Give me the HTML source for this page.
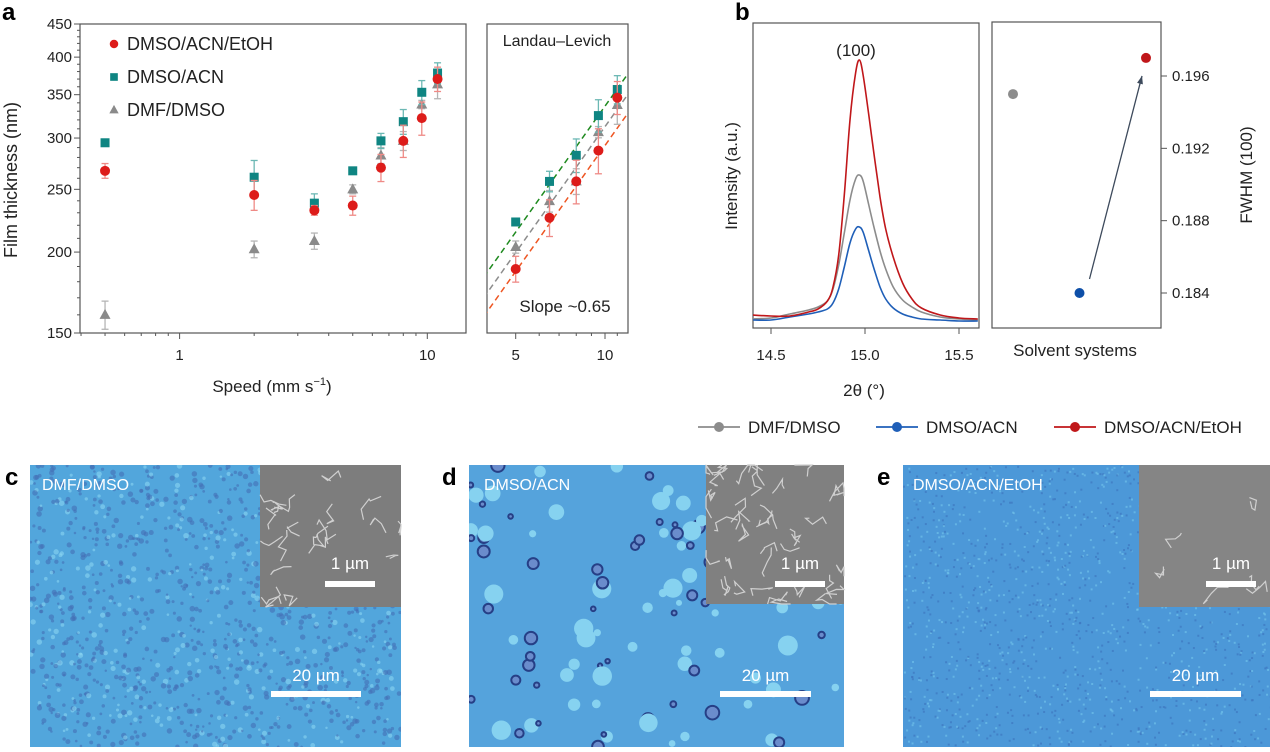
<!DOCTYPE html>
<html><head><meta charset="utf-8">
<style>
html,body{margin:0;padding:0;background:#fff;}
body{width:1270px;height:747px;overflow:hidden;position:relative;font-family:"Liberation Sans",Arial,sans-serif;}
svg text{font-family:"Liberation Sans",Arial,sans-serif;}
</style></head>
<body>
<svg id="fig" width="1270" height="747" viewBox="0 0 1270 747" xmlns="http://www.w3.org/2000/svg">
<defs>
<clipPath id="clipC"><rect x="30" y="465" width="371" height="282"/></clipPath>
<clipPath id="clipD"><rect x="469" y="465" width="375" height="282"/></clipPath>
<clipPath id="clipE"><rect x="903" y="465" width="367" height="282"/></clipPath>
<clipPath id="clipAin"><rect x="487" y="24" width="141" height="309"/></clipPath>
<clipPath id="clipB1"><rect x="753" y="23" width="226" height="305"/></clipPath>
</defs>
<g id="layer"></g>
</svg>
<script>
// ===== Panel a data =====
const speeds = [0.5, 2, 3.5, 5, 6.5, 8, 9.5, 11];
const redVals = [267, 245, 232, 236, 270, 297, 322, 370];
const redErr = [7, 13, 4, 8, 13, 17, 19, 16];
const tealVals = [295, 261, 238, 267, 297, 318, 353, 378];
const tealErr = [0, 16, 8, 0, 8, 14, 15, 14];
const grayVals = [160, 202, 208, 250, 282, 297, 338, 363];
const grayErr = [8, 6, 6, 4, 8, 10, 5, 18];
const yTicksA = [150, 200, 250, 300, 350, 400, 450];
const xTicksA = [1, 10];
const xTicksInset = [5, 10];
const fitAt5 = [260, 246.4, 234.5];
const fitSlope = 0.477;
// ===== Panel b data =====
const twoTheta = [14.40,14.50,14.60,14.70,14.75,14.80,14.83,14.86,14.89,14.92,14.95,14.97,14.99,15.02,15.05,15.08,15.11,15.15,15.20,15.25,15.30,15.40,15.50,15.60];
const redXRD  = [10,9,9,13,16,24,38,70,130,205,252,265,250,210,168,128,96,68,42,26,17,10,7,6];
const grayXRD = [6,7,11,15,18,24,36,60,92,125,146,150,144,120,96,74,56,38,25,18,13,8,6,5];
const blueXRD = [5,5,8,11,13,16,22,36,58,82,96,98,93,74,55,38,26,17,11,8,6,5,4,4];
const xTicksB = [14.5, 15.0, 15.5];
const solvents = ["DMF/DMSO","DMSO/ACN","DMSO/ACN/EtOH"];
const fwhm = [0.195, 0.184, 0.197];
const fwhmTicks = [0.184, 0.188, 0.192, 0.196];

const NS = "http://www.w3.org/2000/svg";
const layer = document.getElementById('layer');
function mk(tag, attrs, parent){
  const e = document.createElementNS(NS, tag);
  for (const k in attrs) e.setAttribute(k, attrs[k]);
  (parent||layer).appendChild(e);
  return e;
}
function txt(x,y,s,attrs,parent){
  const e = mk('text', Object.assign({x:x,y:y}, attrs||{}), parent);
  e.textContent = s; return e;
}

const A = {x0:80, x1:466, y0:333, y1:24};
const axX = v => 179.6 + Math.log10(v)*247.7;
const axY = v => A.y0 - Math.log(v/150)/Math.log(3)*(A.y0-A.y1);
const inX = v => 515.7 + Math.log10(v/5)*296.7;
const inY = v => 269 - Math.log(v/236)*381;

let g;
g = mk('text',{x:2,y:20,'font-size':24,'font-weight':'bold'}); g.textContent='a';



const frameA = mk('rect',{x:A.x0,y:A.y1,width:A.x1-A.x0,height:A.y0-A.y1,fill:'none',stroke:'#555','stroke-width':1.2});



for (let v=150; v<=450; v+=10){
  const y = axY(v); const major = v%50===0;
  mk('line',{x1:A.x0-(major?6:3),x2:A.x0,y1:y,y2:y,stroke:'#555','stroke-width':1});
}
yTicksA.forEach(v=>{
  const t = txt(72, axY(v)+5, String(v), {'font-size':15,'text-anchor':'end',fill:'#222'});
  
  
});
for (let d of [0.1,1,10]) for (let m=1;m<10;m++){
  const v=d*m; const x=axX(v);
  if (x<A.x0||x>A.x1) continue;
  mk('line',{x1:x,x2:x,y1:A.y0,y2:A.y0+(m===1?6:3),stroke:'#555','stroke-width':1});
}
xTicksA.forEach(v=>{
  const t = txt(axX(v), 360, String(v), {'font-size':15,'text-anchor':'middle',fill:'#222'});
  
  
});
g = txt(272, 392, 'Speed (mm s', {'font-size':17,'text-anchor':'middle',fill:'#222'});
const sup = mk('tspan',{dy:-7,'font-size':11},g); sup.textContent='−1';
const cl = mk('tspan',{dy:7},g); cl.textContent=')';


g = txt(0,0,'Film thickness (nm)',{'font-size':18,'text-anchor':'middle',fill:'#222',transform:'translate(17,180) rotate(-90)'});



const seriesDefs = [
  {name:'dmso-acn-etoh', vals:redVals, err:redErr, color:'#dd1c1a', ecolor:'#ef8a86', shape:'circle'},
  {name:'dmso-acn', vals:tealVals, err:tealErr, color:'#0f8582', ecolor:'#6cb8b4', shape:'square'},
  {name:'dmf-dmso', vals:grayVals, err:grayErr, color:'#8a8a8a', ecolor:'#b5b5b5', shape:'triangle'}
];
function marker(shape,x,y,color,parent,s){
  s = s||1;
  if (shape==='circle') return mk('circle',{cx:x,cy:y,r:5*s,fill:color},parent);
  if (shape==='square') return mk('rect',{x:x-4.5*s,y:y-4.5*s,width:9*s,height:9*s,fill:color},parent);
  return mk('polygon',{points:`${x},${y-6*s} ${x-5.5*s},${y+4*s} ${x+5.5*s},${y+4*s}`,fill:color},parent);
}
function drawSeries(sd, fx, fy, filter, prefix){
  const grp = mk('g',{});
  
  
  speeds.forEach((s,i)=>{
    if (!filter(s)) return;
    const x=fx(s), v=sd.vals[i], e=sd.err[i];
    if (e>0){
      const yt=fy(v+e), yb=fy(v-e);
      mk('line',{x1:x,x2:x,y1:yt,y2:yb,stroke:sd.ecolor,'stroke-width':1.3},grp);
      mk('line',{x1:x-3.5,x2:x+3.5,y1:yt,y2:yt,stroke:sd.ecolor,'stroke-width':1.3},grp);
      mk('line',{x1:x-3.5,x2:x+3.5,y1:yb,y2:yb,stroke:sd.ecolor,'stroke-width':1.3},grp);
    }
    const m = marker(sd.shape,x,fy(v),sd.color,grp);
    
    
  });
}
[2,1,0].forEach(k=>drawSeries(seriesDefs[k], axX, axY, ()=>true, 'main'));

const legA = mk('g',{});


[['DMSO/ACN/EtOH',0],['DMSO/ACN',1],['DMF/DMSO',2]].forEach(([label,k],i)=>{
  const y = 44 + i*33;
  marker(seriesDefs[k].shape, 114, y, seriesDefs[k].color, legA, 0.85);
  const t = txt(127, y+6, label, {'font-size':18,fill:'#222'}, legA);
  
  
});

const frameIn = mk('rect',{x:487,y:24,width:141,height:309,fill:'none',stroke:'#555','stroke-width':1.2});


for (let m=4;m<=12;m++){
  const x=inX(m); if (x<487||x>628) continue;
  mk('line',{x1:x,x2:x,y1:333,y2:333+((m===5||m===10)?6:3),stroke:'#555','stroke-width':1});
}
xTicksInset.forEach(v=>{
  const t = txt(inX(v), 360, String(v), {'font-size':15,'text-anchor':'middle',fill:'#222'});
  
  
});
g = txt(557,46,'Landau–Levich',{'font-size':16,'text-anchor':'middle',fill:'#222'});


g = txt(565,312,'Slope  ~0.65',{'font-size':17,'text-anchor':'middle',fill:'#222'});


const fitColors = ['#1f8a1f','#8c8c8c','#ee5522'];
const fitG = mk('g',{'clip-path':'url(#clipAin)'});
fitAt5.forEach((c,i)=>{
  const xa=3.9, xb=12.3;
  const l = mk('line',{x1:inX(xa),y1:inY(c*Math.pow(xa/5,fitSlope)),x2:inX(xb),y2:inY(c*Math.pow(xb/5,fitSlope)),stroke:fitColors[i],'stroke-width':1.5,'stroke-dasharray':'6,4'},fitG);
  
  
});
[2,1,0].forEach(k=>drawSeries(seriesDefs[k], inX, inY, s=>s>=5, 'inset'));

// ---- Panel b ----
g = txt(735,20,'b',{'font-size':24,'font-weight':'bold'});


const B = {x0:753, x1:979, y0:328, y1:23};
const bx = v => 865 + (v-15.0)*188;
const by = v => 325 - v;
const frB = mk('rect',{x:B.x0,y:B.y1,width:B.x1-B.x0,height:B.y0-B.y1,fill:'none',stroke:'#555','stroke-width':1.2});


xTicksB.forEach(v=>{
  mk('line',{x1:bx(v),x2:bx(v),y1:B.y0,y2:B.y0+6,stroke:'#555','stroke-width':1});
  const t = txt(bx(v), 360, v.toFixed(1), {'font-size':15,'text-anchor':'middle',fill:'#222'});
  
  
});
function smoothPath(pts){
  let d = 'M'+pts[0][0].toFixed(1)+','+pts[0][1].toFixed(1);
  for (let i=0;i<pts.length-1;i++){
    const p0=pts[Math.max(0,i-1)], p1=pts[i], p2=pts[i+1], p3=pts[Math.min(pts.length-1,i+2)];
    const c1x=p1[0]+(p2[0]-p0[0])/6, c1y=p1[1]+(p2[1]-p0[1])/6;
    const c2x=p2[0]-(p3[0]-p1[0])/6, c2y=p2[1]-(p3[1]-p1[1])/6;
    d += ` C${c1x.toFixed(1)},${c1y.toFixed(1)} ${c2x.toFixed(1)},${c2y.toFixed(1)} ${p2[0].toFixed(1)},${p2[1].toFixed(1)}`;
  }
  return d;
}
const xrdG = mk('g',{'clip-path':'url(#clipB1)'});
[[grayXRD,'#8c8c8c','xrd-line-dmf-dmso'],[blueXRD,'#1f5fb8','xrd-line-dmso-acn'],[redXRD,'#c0171a','xrd-line-dmso-acn-etoh']].forEach(([arr,col,nm])=>{
  const pts = arr.map((v,i)=>[bx(twoTheta[i]), by(v)]);
  const p = mk('path',{d:smoothPath(pts),fill:'none',stroke:col,'stroke-width':1.6,'stroke-linejoin':'round'},xrdG);
  
  
});
g = txt(856,56,'(100)',{'font-size':17,'text-anchor':'middle',fill:'#222'});


g = txt(0,0,'Intensity (a.u.)',{'font-size':17,'text-anchor':'middle',fill:'#222',transform:'translate(737,176) rotate(-90)'});


g = txt(864,396,'2θ (°)',{'font-size':17,'text-anchor':'middle',fill:'#222'});



const F = {x0:992, x1:1161, y0:328, y1:22};
const fx = i => 1013 + i*66.5;
const fy = v => 293 - (v-0.184)*18083;
const frF = mk('rect',{x:F.x0,y:F.y1,width:F.x1-F.x0,height:F.y0-F.y1,fill:'none',stroke:'#555','stroke-width':1.2});


fwhmTicks.forEach(v=>{
  mk('line',{x1:F.x1,x2:F.x1+6,y1:fy(v),y2:fy(v),stroke:'#555','stroke-width':1});
  const t = txt(1172, fy(v)+5, v.toFixed(3), {'font-size':15,fill:'#222'});
  
  
});
const fcols = ['#8c8c8c','#0e4fa8','#c0171a'];
const ax1=fx(1)+10, ay1=fy(fwhm[1])-14, ax2=fx(2)-4, ay2=fy(fwhm[2])+18;
const arr = mk('line',{x1:ax1,y1:ay1,x2:ax2,y2:ay2,stroke:'#3d4a5c','stroke-width':1.3});


const ang = Math.atan2(ay2-ay1, ax2-ax1);
const hx = ax2, hy = ay2;
mk('polygon',{points:`${hx},${hy} ${hx-8*Math.cos(ang)+3*Math.sin(ang)},${hy-8*Math.sin(ang)-3*Math.cos(ang)} ${hx-8*Math.cos(ang)-3*Math.sin(ang)},${hy-8*Math.sin(ang)+3*Math.cos(ang)}`,fill:'#3d4a5c'});
fwhm.forEach((v,i)=>{
  const c = mk('circle',{cx:fx(i),cy:fy(v),r:5,fill:fcols[i]});
  
  
});
g = txt(1075,356,'Solvent systems',{'font-size':17,'text-anchor':'middle',fill:'#222'});


g = txt(0,0,'FWHM (100)',{'font-size':17,'text-anchor':'middle',fill:'#222',transform:'translate(1252,175) rotate(-90)'});



const legB = mk('g',{});


[['DMF/DMSO','#8c8c8c',698],['DMSO/ACN','#1f5fb8',876],['DMSO/ACN/EtOH','#c0171a',1054]].forEach(([lab,col,x])=>{
  mk('line',{x1:x,x2:x+42,y1:427,y2:427,stroke:col,'stroke-width':1.8},legB);
  mk('circle',{cx:x+21,cy:427,r:5,fill:col},legB);
  const t = txt(x+50,433,lab,{'font-size':17,fill:'#222'},legB);
  
  
});

// ---- Micrographs (decorative texture) ----
let seed = 12345;
function rnd(){ seed = (seed*1103515245+12345)%2147483648; return seed/2147483648; }
function micro(id, x, y, w, h, bg, clip){
  const grp = mk('g',{'clip-path':'url(#'+clip+')'});
  
  
  mk('rect',{x:x,y:y,width:w,height:h,fill:bg},grp);
  return grp;
}
const gc = micro('micrograph-c',30,465,371,282,'#52a6dc','clipC');
for (let i=0;i<1300;i++){
  const cx=30+rnd()*371, cy=465+rnd()*282, r=1.2+rnd()*1.6;
  mk('circle',{cx:cx,cy:cy,r:r,fill:rnd()<0.75?'#4570b5':'#8ad6f2','fill-opacity':0.6},gc);
}
const gd = micro('micrograph-d',469,465,375,282,'#55a3dc','clipD');
for (let i=0;i<110;i++){
  const cx=469+rnd()*375, cy=465+rnd()*282, r=3+rnd()*7;
  if (rnd()<0.55) mk('circle',{cx:cx,cy:cy,r:r,fill:'#86d2f0'},gd);
  else { mk('circle',{cx:cx,cy:cy,r:r*0.7,fill:'#6a8ccc',stroke:'#263f86','stroke-width':2},gd); }
}
const ge = micro('micrograph-e',903,465,367,282,'#4c98d8','clipE');
for (let i=0;i<1400;i++){
  const cx=903+rnd()*367, cy=465+rnd()*282;
  mk('rect',{x:cx,y:cy,width:2,height:2,fill:rnd()<0.5?'#6fc0ea':'#3f78c0','fill-opacity':0.7},ge);
}
function sem(id,x,y,w,h,bg,lines){
  const grp = mk('g',{});
  
  
  mk('rect',{x:x,y:y,width:w,height:h,fill:bg},grp);
  for (let i=0;i<lines;i++){
    let px=x+rnd()*w, py=y+rnd()*h, d='M'+px.toFixed(1)+','+py.toFixed(1);
    for (let k=0;k<4;k++){ px=Math.min(x+w,Math.max(x,px+(rnd()-0.5)*22)); py=Math.min(y+h,Math.max(y,py+(rnd()-0.5)*22)); d+=' L'+px.toFixed(1)+','+py.toFixed(1); }
    mk('path',{d:d,fill:'none',stroke:'#d0d0d0','stroke-width':1.2},grp);
  }
}
sem('sem-inset-c',260,465,141,142,'#7d7d7d',22);
sem('sem-inset-d',706,465,138,139,'#808080',40);
sem('sem-inset-e',1139,465,131,142,'#858585',6);

[['c',5,485],['d',442,485],['e',877,485]].forEach(([l,x,y])=>{
  const t = txt(x,y,l,{'font-size':24,'font-weight':'bold'});
  
  
});
[['DMF/DMSO',42],['DMSO/ACN',484],['DMSO/ACN/EtOH',913]].forEach(([l,x])=>{
  const t = txt(x,490,l,{'font-size':16,fill:'#fff'});
  
  
});
[[271,361,325,375],[720,811,775,825],[1150,1241,1206,1256]].forEach(([a1,a2,b1,b2])=>{
  mk('rect',{x:a1,y:691,width:a2-a1,height:6,fill:'#fff'});
  let t = txt((a1+a2)/2,681,'20 µm',{'font-size':17,'text-anchor':'middle',fill:'#fff'});
  
  
  mk('rect',{x:b1,y:581,width:b2-b1,height:6,fill:'#fff'});
  t = txt((b1+b2)/2,569,'1 µm',{'font-size':17,'text-anchor':'middle',fill:'#fff'});
  
  
});
</script>
</body></html>
